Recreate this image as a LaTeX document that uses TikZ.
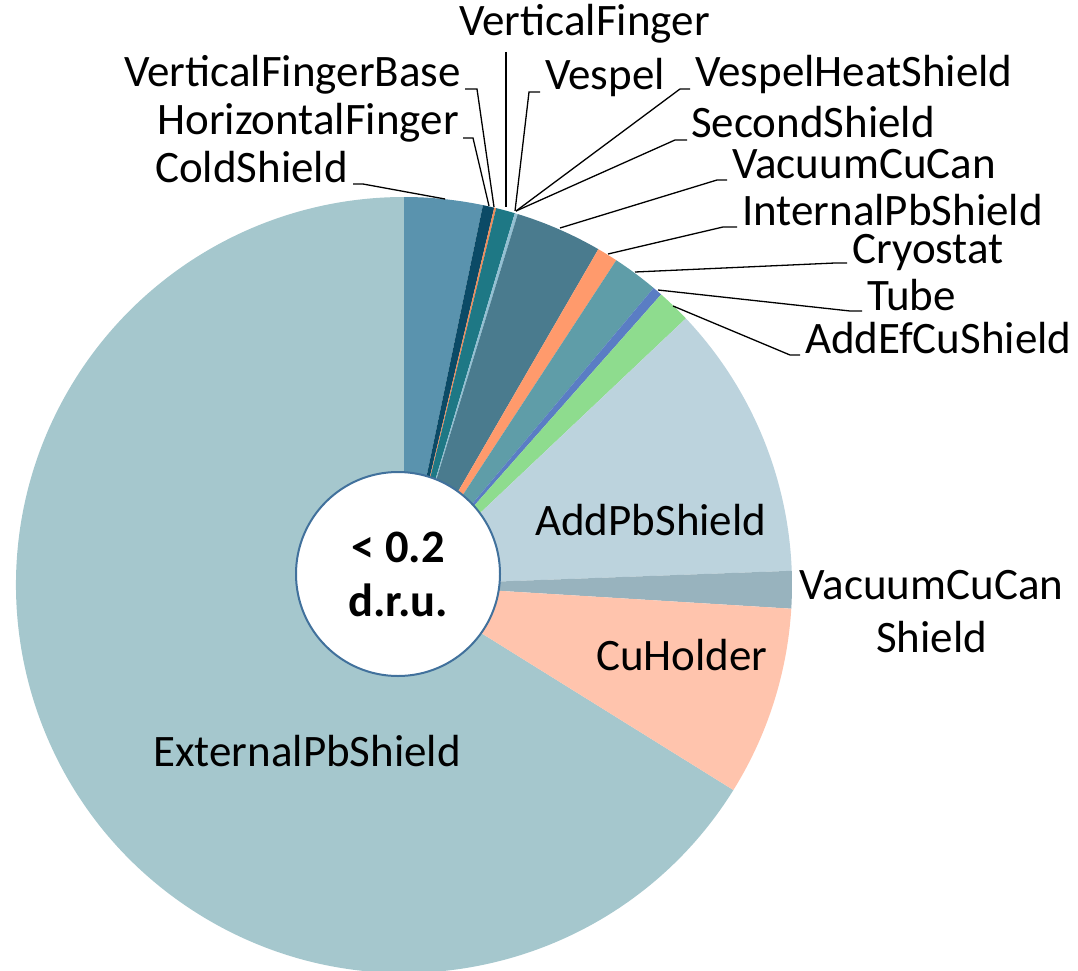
\documentclass[tikz,border=0pt]{standalone}
\usepackage{fontspec}
\setmainfont{Carlito}
\usetikzlibrary{calc}
\definecolor{cExt}{HTML}{A5C7CD}
\definecolor{cCold}{HTML}{5A93AE}
\definecolor{cVFB}{HTML}{0B4A66}
\definecolor{cHF}{HTML}{F28C5A}
\definecolor{cVF}{HTML}{1E7885}
\definecolor{cVHS}{HTML}{93C0D3}
\definecolor{cVCC}{HTML}{4A7B8E}
\definecolor{cIPb}{HTML}{FF9A6C}
\definecolor{cCryo}{HTML}{5F9DA8}
\definecolor{cTube}{HTML}{5A7DC4}
\definecolor{cAEf}{HTML}{8EDC8E}
\definecolor{cAPb}{HTML}{BCD3DD}
\definecolor{cVCCS}{HTML}{98B3BE}
\definecolor{cCuH}{HTML}{FFC4AD}
\definecolor{holeblue}{HTML}{41719C}
\newcommand\pieslice[3]{\fill[#3] (C) -- ($(C)+({#1-90}:388)$) arc[start angle={#1-90}, end angle={#2-90}, radius=388] -- cycle;}
\begin{document}
\begin{tikzpicture}[x=1pt,y=-1pt,
  lbl/.style={inner sep=0pt, font=\fontsize{45}{53.5}\selectfont},
  leader/.style={draw=black, line width=1.3pt}]
\useasboundingbox (0,0) rectangle (1078,971);
\coordinate (C) at (404,585);
% slices (bearing clockwise from top)
\pieslice{121.9}{360}{cExt}
\pieslice{0}{11.74}{cCold}
\pieslice{11.74}{13.45}{cVFB}
\pieslice{13.45}{13.75}{cHF}
\pieslice{13.75}{16.6}{cVF}
\pieslice{16.6}{17.05}{cVHS}
\pieslice{17.05}{30.06}{cVCC}
\pieslice{30.06}{33.17}{cIPb}
\pieslice{33.17}{40.04}{cCryo}
\pieslice{40.04}{41.51}{cTube}
\pieslice{41.51}{46.6}{cAEf}
\pieslice{46.6}{87.9}{cAPb}
\pieslice{87.9}{93.5}{cVCCS}
\pieslice{93.5}{121.9}{cCuH}
% hole
\node[circle, draw=holeblue, line width=2pt, fill=white, minimum size=204pt, inner sep=0pt,
  align=center, font=\fontsize{46.5}{54}\selectfont\bfseries] (hole) at (398,574) {< 0.2\\d.r.u.};
% inner labels
\node[lbl, anchor=base west] (tAPb) at (535,535) {AddPbShield};
\node[lbl, anchor=base west] (tCuH) at (596,670) {CuHolder};
\node[lbl, anchor=base west] (tExt) at (153,766) {ExternalPbShield};
\node[lbl, anchor=north, align=center] (tVCCS) at (931.5,570) {VacuumCuCan\\Shield};
% pie anchor points
\coordinate (pCold) at (445,199);
\coordinate (pHF) at (489,206);
\coordinate (pVFB) at (494,207);
\coordinate (pVF) at (506,207);
\coordinate (pVes) at (515,211);
\coordinate (pVHS) at (516,211);
\coordinate (pSec) at (516,211);
\coordinate (pVCC) at (560,228);
\coordinate (pIPb) at (608,254);
\coordinate (pCryo) at (635,272);
\coordinate (pTube) at (658,290);
\coordinate (pAEf) at (673,306);
% outer labels
\node[lbl, anchor=base east] (tCold) at (348,182) {ColdShield};
\node[lbl, anchor=base east] (tHF) at (459,135) {HorizontalFinger};
\node[lbl, anchor=base east] (tVFB) at (461,87) {VerticalFingerBase};
\node[lbl, anchor=base west] (tVF) at (459,36) {VerticalFinger};
\node[lbl, anchor=base west] (tVes) at (545,90) {Vespel};
\node[lbl, anchor=base west] (tVHS) at (695,87) {VespelHeatShield};
\node[lbl, anchor=base west] (tSec) at (691,138) {SecondShield};
\node[lbl, anchor=base west] (tVCC) at (732,178) {VacuumCuCan};
\node[lbl, anchor=base west] (tIPb) at (742,225) {InternalPbShield};
\node[lbl, anchor=base west] (tCryo) at (852,263) {Cryostat};
\node[lbl, anchor=base west] (tTube) at (867,310) {Tube};
\node[lbl, anchor=base west] (tAEf) at (805,353) {AddEfCuShield};
% leaders
\draw[leader] ($(tCold.base east)+(5,2)$) -- ++(10,0) -- (pCold);
\draw[leader] ($(tHF.base east)+(4,3)$) -- ++(10,0) -- (pHF);
\draw[leader] ($(tVFB.base east)+(4,2)$) -- ++(12,0) -- (pVFB);
\draw[leader] ($(tVF.base west)+(47,16)$) -- (pVF);
\draw[leader] ($(tVes.base west)+(-5,2)$) -- ++(-11,0) -- (pVes);
\draw[leader] ($(tVHS.base west)+(-5,2)$) -- ++(-10,0) -- (pVHS);
\draw[leader] ($(tSec.base west)+(-4,2)$) -- ++(-12,0) -- (pSec);
\draw[leader] ($(tVCC.base west)+(-5,2)$) -- ++(-10,0) -- (pVCC);
\draw[leader] ($(tIPb.base west)+(-5,2)$) -- ++(-14,0) -- (pIPb);
\draw[leader] ($(tCryo.base west)+(-5,0)$) -- ++(-12,0) -- (pCryo);
\draw[leader] ($(tTube.base west)+(-5,1)$) -- ++(-12,0) -- (pTube);
\draw[leader] ($(tAEf.base west)+(-5,2)$) -- ++(-10,0) -- (pAEf);
\end{tikzpicture}
\end{document}
